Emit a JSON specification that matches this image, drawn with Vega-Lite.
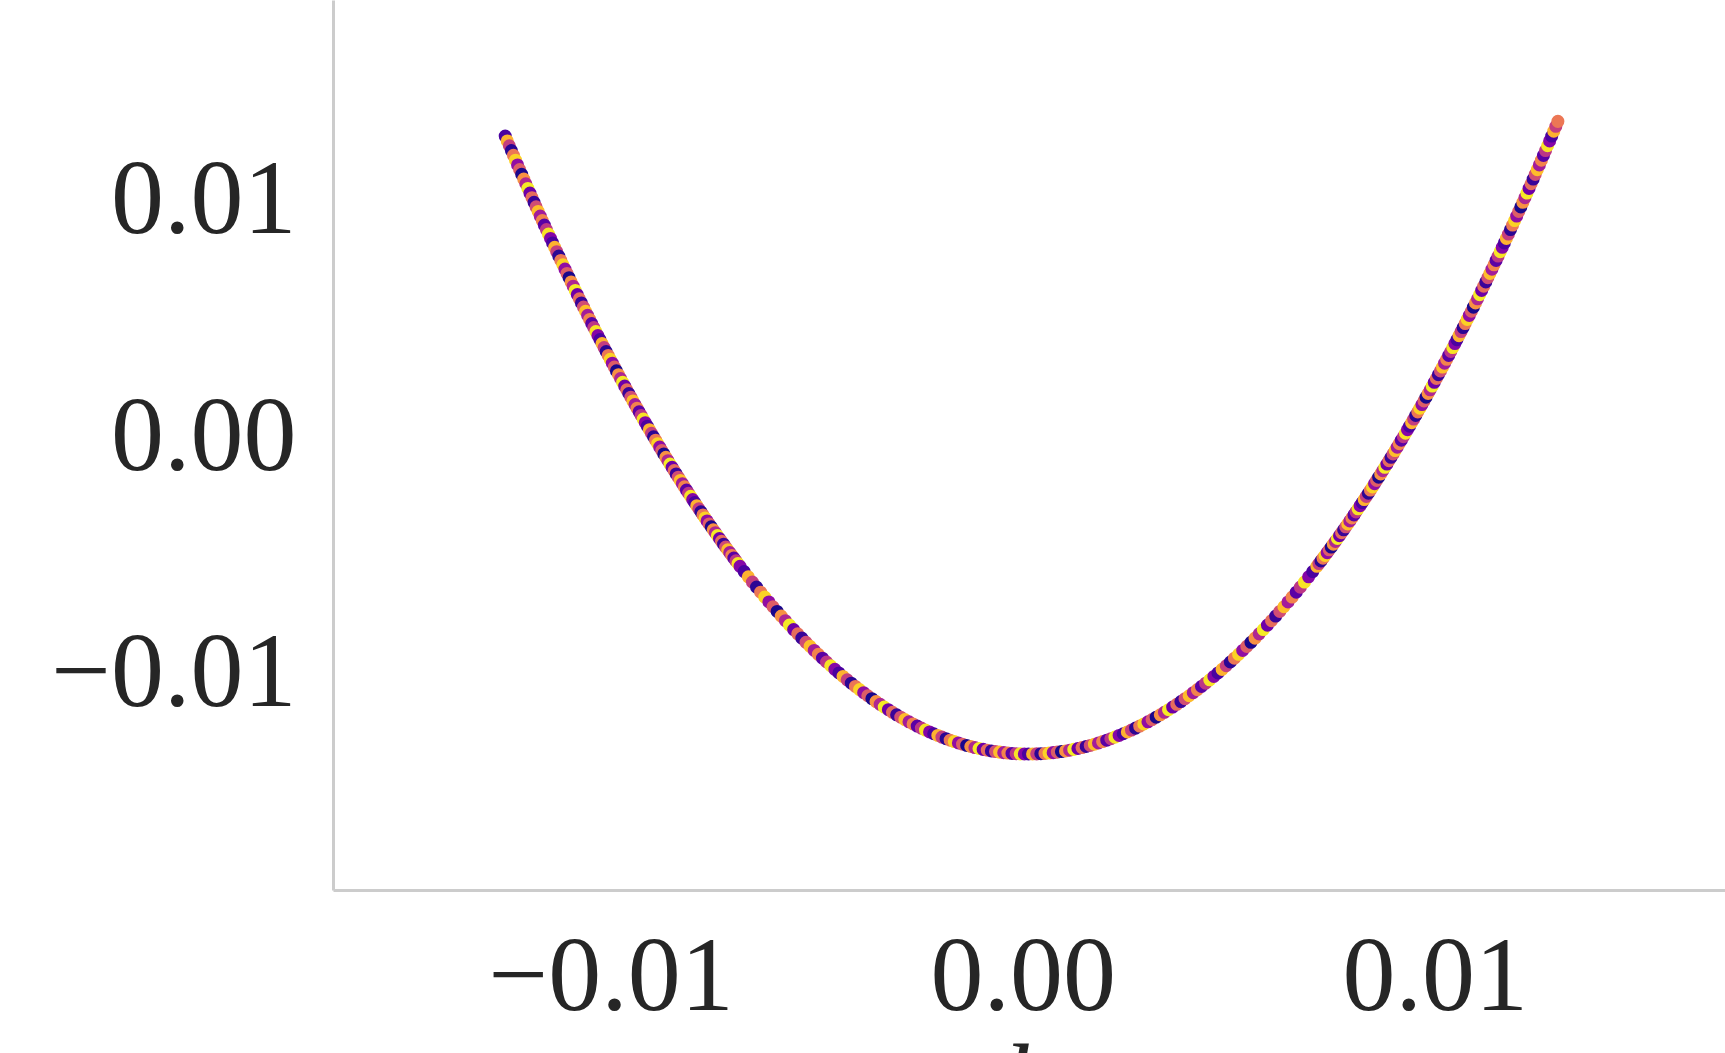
{
"$schema":"https://vega.github.io/schema/vega-lite/v6.json",
"width":1392,"height":890,
"autosize":{"type":"none"},
"padding":{"left":333,"top":0,"right":0,"bottom":163},
"background":"white",
"config":{"view":{"stroke":null},"font":"Liberation Serif"},
"data":{"values":[
{"x":-0.01256,"y":0.012725,"c":0.12},{"x":-0.01251,"y":0.01252,"c":0.83},{"x":-0.01246,"y":0.012315,"c":0.47},{"x":-0.01241,"y":0.012111,"c":0.05},{"x":-0.01236,"y":0.011909,"c":0.66},{"x":-0.01231,"y":0.011706,"c":0.91},{"x":-0.01226,"y":0.011505,"c":0.30},{"x":-0.01221,"y":0.011305,"c":0.58},{"x":-0.01216,"y":0.011105,"c":0.02},{"x":-0.01211,"y":0.010906,"c":0.74},{"x":-0.01206,"y":0.010708,"c":0.39},{"x":-0.01201,"y":0.010511,"c":0.97},{"x":-0.01196,"y":0.010314,"c":0.21},{"x":-0.01191,"y":0.010119,"c":0.63},{"x":-0.01186,"y":0.009924,"c":0.08},{"x":-0.01181,"y":0.00973,"c":0.52},{"x":-0.01176,"y":0.009537,"c":0.86},{"x":-0.01171,"y":0.009344,"c":0.35},{"x":-0.01166,"y":0.009153,"c":0.70},{"x":-0.01161,"y":0.008962,"c":0.16},{"x":-0.01156,"y":0.008772,"c":0.44},{"x":-0.01151,"y":0.008583,"c":0.95},{"x":-0.01146,"y":0.008395,"c":0.27},
{"x":-0.01141,"y":0.008207,"c":0.12},{"x":-0.01136,"y":0.008021,"c":0.83},{"x":-0.01131,"y":0.007835,"c":0.47},{"x":-0.01126,"y":0.00765,"c":0.05},{"x":-0.01121,"y":0.007465,"c":0.66},{"x":-0.01116,"y":0.007282,"c":0.91},{"x":-0.01111,"y":0.007099,"c":0.30},{"x":-0.01106,"y":0.006917,"c":0.58},{"x":-0.01101,"y":0.006736,"c":0.02},{"x":-0.01096,"y":0.006556,"c":0.74},{"x":-0.01091,"y":0.006377,"c":0.39},{"x":-0.01086,"y":0.006198,"c":0.97},{"x":-0.01081,"y":0.00602,"c":0.21},{"x":-0.01076,"y":0.005843,"c":0.63},{"x":-0.01071,"y":0.005667,"c":0.08},{"x":-0.01066,"y":0.005492,"c":0.52},{"x":-0.01061,"y":0.005317,"c":0.86},{"x":-0.01056,"y":0.005143,"c":0.35},{"x":-0.01051,"y":0.00497,"c":0.70},{"x":-0.01046,"y":0.004798,"c":0.16},{"x":-0.01041,"y":0.004627,"c":0.44},{"x":-0.01036,"y":0.004457,"c":0.95},{"x":-0.01031,"y":0.004287,"c":0.27},
{"x":-0.01026,"y":0.004118,"c":0.12},{"x":-0.01021,"y":0.00395,"c":0.83},{"x":-0.01016,"y":0.003783,"c":0.47},{"x":-0.01011,"y":0.003616,"c":0.05},{"x":-0.01006,"y":0.00345,"c":0.66},{"x":-0.01001,"y":0.003286,"c":0.91},{"x":-0.00996,"y":0.003122,"c":0.30},{"x":-0.00991,"y":0.002958,"c":0.58},{"x":-0.00986,"y":0.002796,"c":0.02},{"x":-0.00981,"y":0.002634,"c":0.74},{"x":-0.00976,"y":0.002474,"c":0.39},{"x":-0.00971,"y":0.002314,"c":0.97},{"x":-0.00966,"y":0.002154,"c":0.21},{"x":-0.00961,"y":0.001996,"c":0.63},{"x":-0.00956,"y":0.001839,"c":0.08},{"x":-0.00951,"y":0.001682,"c":0.52},{"x":-0.00946,"y":0.001526,"c":0.86},{"x":-0.00941,"y":0.001371,"c":0.35},{"x":-0.00936,"y":0.001217,"c":0.70},{"x":-0.00931,"y":0.001063,"c":0.16},{"x":-0.00926,"y":0.00091,"c":0.44},{"x":-0.00921,"y":0.000758,"c":0.95},{"x":-0.00916,"y":0.000607,"c":0.27},
{"x":-0.00911,"y":0.000457,"c":0.12},{"x":-0.00906,"y":0.000308,"c":0.83},{"x":-0.00901,"y":0.000159,"c":0.47},{"x":-0.00896,"y":0.000011,"c":0.05},{"x":-0.00891,"y":-0.000136,"c":0.66},{"x":-0.00886,"y":-0.000282,"c":0.91},{"x":-0.00881,"y":-0.000427,"c":0.30},{"x":-0.00876,"y":-0.000572,"c":0.58},{"x":-0.00871,"y":-0.000716,"c":0.02},{"x":-0.00866,"y":-0.000859,"c":0.74},{"x":-0.00861,"y":-0.001001,"c":0.39},{"x":-0.00856,"y":-0.001142,"c":0.97},{"x":-0.00851,"y":-0.001283,"c":0.21},{"x":-0.00846,"y":-0.001422,"c":0.63},{"x":-0.00841,"y":-0.001561,"c":0.08},{"x":-0.00836,"y":-0.0017,"c":0.52},{"x":-0.00831,"y":-0.001837,"c":0.86},{"x":-0.00826,"y":-0.001973,"c":0.35},{"x":-0.00821,"y":-0.002109,"c":0.70},{"x":-0.00816,"y":-0.002244,"c":0.16},{"x":-0.00811,"y":-0.002378,"c":0.44},{"x":-0.00806,"y":-0.002511,"c":0.95},{"x":-0.00801,"y":-0.002644,"c":0.27},
{"x":-0.00796,"y":-0.002775,"c":0.12},{"x":-0.00791,"y":-0.002906,"c":0.83},{"x":-0.00786,"y":-0.003036,"c":0.47},{"x":-0.00781,"y":-0.003165,"c":0.05},{"x":-0.00776,"y":-0.003294,"c":0.66},{"x":-0.00771,"y":-0.003421,"c":0.91},{"x":-0.00766,"y":-0.003548,"c":0.30},{"x":-0.00761,"y":-0.003674,"c":0.58},{"x":-0.00756,"y":-0.003799,"c":0.02},{"x":-0.00751,"y":-0.003923,"c":0.74},{"x":-0.00746,"y":-0.004047,"c":0.39},{"x":-0.00741,"y":-0.00417,"c":0.97},{"x":-0.00736,"y":-0.004292,"c":0.21},{"x":-0.00731,"y":-0.004413,"c":0.63},{"x":-0.00726,"y":-0.004533,"c":0.08},{"x":-0.00721,"y":-0.004652,"c":0.52},{"x":-0.00716,"y":-0.004771,"c":0.86},{"x":-0.00711,"y":-0.004889,"c":0.35},{"x":-0.00706,"y":-0.005006,"c":0.70},{"x":-0.00701,"y":-0.005122,"c":0.16},{"x":-0.00696,"y":-0.005238,"c":0.44},{"x":-0.00691,"y":-0.005352,"c":0.95},
{"x":-0.00686,"y":-0.005466,"c":0.27},{"x":-0.00676,"y":-0.005691,"c":0.12},{"x":-0.00666,"y":-0.005913,"c":0.83},{"x":-0.00656,"y":-0.006132,"c":0.47},{"x":-0.00646,"y":-0.006347,"c":0.05},{"x":-0.00636,"y":-0.00656,"c":0.66},{"x":-0.00626,"y":-0.006768,"c":0.91},{"x":-0.00616,"y":-0.006974,"c":0.30},{"x":-0.00606,"y":-0.007177,"c":0.58},{"x":-0.00596,"y":-0.007376,"c":0.02},{"x":-0.00586,"y":-0.007572,"c":0.74},{"x":-0.00576,"y":-0.007765,"c":0.39},{"x":-0.00566,"y":-0.007954,"c":0.97},{"x":-0.00556,"y":-0.008141,"c":0.21},{"x":-0.00546,"y":-0.008324,"c":0.63},{"x":-0.00536,"y":-0.008504,"c":0.08},{"x":-0.00526,"y":-0.00868,"c":0.52},{"x":-0.00516,"y":-0.008853,"c":0.86},{"x":-0.00506,"y":-0.009024,"c":0.35},{"x":-0.00496,"y":-0.00919,"c":0.70},{"x":-0.00486,"y":-0.009354,"c":0.16},{"x":-0.00476,"y":-0.009514,"c":0.44},{"x":-0.00466,"y":-0.009672,"c":0.95},
{"x":-0.00456,"y":-0.009825,"c":0.27},{"x":-0.00446,"y":-0.009976,"c":0.12},{"x":-0.00436,"y":-0.010124,"c":0.83},{"x":-0.00426,"y":-0.010268,"c":0.47},{"x":-0.00416,"y":-0.010409,"c":0.05},{"x":-0.00406,"y":-0.010546,"c":0.66},{"x":-0.00396,"y":-0.010681,"c":0.91},{"x":-0.00386,"y":-0.010812,"c":0.30},{"x":-0.00376,"y":-0.01094,"c":0.58},{"x":-0.00366,"y":-0.011065,"c":0.02},{"x":-0.00356,"y":-0.011186,"c":0.74},{"x":-0.00346,"y":-0.011304,"c":0.39},{"x":-0.00336,"y":-0.01142,"c":0.97},{"x":-0.00326,"y":-0.011531,"c":0.21},{"x":-0.00316,"y":-0.01164,"c":0.63},{"x":-0.00306,"y":-0.011745,"c":0.08},{"x":-0.00296,"y":-0.011847,"c":0.52},{"x":-0.00286,"y":-0.011946,"c":0.86},{"x":-0.00276,"y":-0.012042,"c":0.35},{"x":-0.00266,"y":-0.012134,"c":0.70},{"x":-0.00256,"y":-0.012223,"c":0.16},{"x":-0.00246,"y":-0.012309,"c":0.44},{"x":-0.00236,"y":-0.012392,"c":0.95},
{"x":-0.00226,"y":-0.012471,"c":0.27},{"x":-0.00216,"y":-0.012547,"c":0.12},{"x":-0.00206,"y":-0.01262,"c":0.83},{"x":-0.00196,"y":-0.01269,"c":0.47},{"x":-0.00186,"y":-0.012756,"c":0.05},{"x":-0.00176,"y":-0.012819,"c":0.66},{"x":-0.00166,"y":-0.012879,"c":0.91},{"x":-0.00156,"y":-0.012936,"c":0.30},{"x":-0.00146,"y":-0.012989,"c":0.58},{"x":-0.00136,"y":-0.01304,"c":0.02},{"x":-0.00126,"y":-0.013086,"c":0.74},{"x":-0.00116,"y":-0.01313,"c":0.39},{"x":-0.00106,"y":-0.013171,"c":0.97},{"x":-0.00096,"y":-0.013208,"c":0.21},{"x":-0.00086,"y":-0.013242,"c":0.63},{"x":-0.00076,"y":-0.013273,"c":0.08},{"x":-0.00066,"y":-0.0133,"c":0.52},{"x":-0.00056,"y":-0.013325,"c":0.86},{"x":-0.00046,"y":-0.013346,"c":0.35},{"x":-0.00036,"y":-0.013364,"c":0.70},{"x":-0.00026,"y":-0.013378,"c":0.16},{"x":-0.00016,"y":-0.013389,"c":0.44},{"x":-0.00006,"y":-0.013398,"c":0.95},
{"x":0.00004,"y":-0.013402,"c":0.27},{"x":0.00014,"y":-0.013404,"c":0.12},{"x":0.00024,"y":-0.013402,"c":0.83},{"x":0.00034,"y":-0.013398,"c":0.47},{"x":0.00044,"y":-0.013389,"c":0.05},{"x":0.00054,"y":-0.013378,"c":0.66},{"x":0.00064,"y":-0.013364,"c":0.91},{"x":0.00074,"y":-0.013346,"c":0.30},{"x":0.00084,"y":-0.013325,"c":0.58},{"x":0.00094,"y":-0.0133,"c":0.02},{"x":0.00104,"y":-0.013273,"c":0.74},{"x":0.00114,"y":-0.013242,"c":0.39},{"x":0.00124,"y":-0.013208,"c":0.97},{"x":0.00134,"y":-0.013171,"c":0.21},{"x":0.00144,"y":-0.01313,"c":0.63},{"x":0.00154,"y":-0.013086,"c":0.08},{"x":0.00164,"y":-0.01304,"c":0.52},{"x":0.00174,"y":-0.012989,"c":0.86},{"x":0.00184,"y":-0.012936,"c":0.35},{"x":0.00194,"y":-0.012879,"c":0.70},{"x":0.00204,"y":-0.012819,"c":0.16},{"x":0.00214,"y":-0.012756,"c":0.44},{"x":0.00224,"y":-0.01269,"c":0.95},
{"x":0.00234,"y":-0.01262,"c":0.27},{"x":0.00244,"y":-0.012547,"c":0.12},{"x":0.00254,"y":-0.012471,"c":0.83},{"x":0.00264,"y":-0.012392,"c":0.47},{"x":0.00274,"y":-0.012309,"c":0.05},{"x":0.00284,"y":-0.012223,"c":0.66},{"x":0.00294,"y":-0.012134,"c":0.91},{"x":0.00304,"y":-0.012042,"c":0.30},{"x":0.00314,"y":-0.011946,"c":0.58},{"x":0.00324,"y":-0.011847,"c":0.02},{"x":0.00334,"y":-0.011745,"c":0.74},{"x":0.00344,"y":-0.01164,"c":0.39},{"x":0.00354,"y":-0.011531,"c":0.97},{"x":0.00364,"y":-0.01142,"c":0.21},{"x":0.00374,"y":-0.011304,"c":0.63},{"x":0.00384,"y":-0.011186,"c":0.08},{"x":0.00394,"y":-0.011065,"c":0.52},{"x":0.00404,"y":-0.01094,"c":0.86},{"x":0.00414,"y":-0.010812,"c":0.35},{"x":0.00424,"y":-0.010681,"c":0.70},{"x":0.00434,"y":-0.010546,"c":0.16},{"x":0.00444,"y":-0.010409,"c":0.44},{"x":0.00454,"y":-0.010268,"c":0.95},
{"x":0.00464,"y":-0.010124,"c":0.27},{"x":0.00474,"y":-0.009976,"c":0.12},{"x":0.00484,"y":-0.009825,"c":0.83},{"x":0.00494,"y":-0.009672,"c":0.47},{"x":0.00504,"y":-0.009514,"c":0.05},{"x":0.00514,"y":-0.009354,"c":0.66},{"x":0.00524,"y":-0.00919,"c":0.91},{"x":0.00534,"y":-0.009024,"c":0.30},{"x":0.00544,"y":-0.008853,"c":0.58},{"x":0.00554,"y":-0.00868,"c":0.02},{"x":0.00564,"y":-0.008504,"c":0.74},{"x":0.00574,"y":-0.008324,"c":0.39},{"x":0.00584,"y":-0.008141,"c":0.97},{"x":0.00594,"y":-0.007954,"c":0.21},{"x":0.00604,"y":-0.007765,"c":0.63},{"x":0.00614,"y":-0.007572,"c":0.08},{"x":0.00624,"y":-0.007376,"c":0.52},{"x":0.00634,"y":-0.007177,"c":0.86},{"x":0.00644,"y":-0.006974,"c":0.35},{"x":0.00654,"y":-0.006768,"c":0.70},{"x":0.00664,"y":-0.00656,"c":0.16},{"x":0.00674,"y":-0.006347,"c":0.44},{"x":0.00684,"y":-0.006132,"c":0.95},
{"x":0.00694,"y":-0.005913,"c":0.27},{"x":0.00704,"y":-0.005691,"c":0.12},{"x":0.00714,"y":-0.005466,"c":0.83},
{"x":0.00719,"y":-0.005352,"c":0.47},{"x":0.00724,"y":-0.005238,"c":0.05},{"x":0.00729,"y":-0.005122,"c":0.66},{"x":0.00734,"y":-0.005006,"c":0.91},{"x":0.00739,"y":-0.004889,"c":0.30},{"x":0.00744,"y":-0.004771,"c":0.58},{"x":0.00749,"y":-0.004652,"c":0.02},{"x":0.00754,"y":-0.004533,"c":0.74},{"x":0.00759,"y":-0.004413,"c":0.39},{"x":0.00764,"y":-0.004292,"c":0.97},{"x":0.00769,"y":-0.00417,"c":0.21},{"x":0.00774,"y":-0.004047,"c":0.63},{"x":0.00779,"y":-0.003923,"c":0.08},{"x":0.00784,"y":-0.003799,"c":0.52},{"x":0.00789,"y":-0.003674,"c":0.86},{"x":0.00794,"y":-0.003548,"c":0.35},{"x":0.00799,"y":-0.003421,"c":0.70},{"x":0.00804,"y":-0.003294,"c":0.16},{"x":0.00809,"y":-0.003165,"c":0.44},{"x":0.00814,"y":-0.003036,"c":0.95},
{"x":0.00819,"y":-0.002906,"c":0.27},{"x":0.00824,"y":-0.002775,"c":0.12},{"x":0.00829,"y":-0.002644,"c":0.83},{"x":0.00834,"y":-0.002511,"c":0.47},{"x":0.00839,"y":-0.002378,"c":0.05},{"x":0.00844,"y":-0.002244,"c":0.66},{"x":0.00849,"y":-0.002109,"c":0.91},{"x":0.00854,"y":-0.001973,"c":0.30},{"x":0.00859,"y":-0.001837,"c":0.58},{"x":0.00864,"y":-0.0017,"c":0.02},{"x":0.00869,"y":-0.001561,"c":0.74},{"x":0.00874,"y":-0.001422,"c":0.39},{"x":0.00879,"y":-0.001283,"c":0.97},{"x":0.00884,"y":-0.001142,"c":0.21},{"x":0.00889,"y":-0.001001,"c":0.63},{"x":0.00894,"y":-0.000859,"c":0.08},{"x":0.00899,"y":-0.000716,"c":0.52},{"x":0.00904,"y":-0.000572,"c":0.86},{"x":0.00909,"y":-0.000427,"c":0.35},{"x":0.00914,"y":-0.000282,"c":0.70},{"x":0.00919,"y":-0.000136,"c":0.16},{"x":0.00924,"y":0.000011,"c":0.44},{"x":0.00929,"y":0.000159,"c":0.95},
{"x":0.00934,"y":0.000308,"c":0.27},{"x":0.00939,"y":0.000457,"c":0.12},{"x":0.00944,"y":0.000607,"c":0.83},{"x":0.00949,"y":0.000758,"c":0.47},{"x":0.00954,"y":0.00091,"c":0.05},{"x":0.00959,"y":0.001063,"c":0.66},{"x":0.00964,"y":0.001217,"c":0.91},{"x":0.00969,"y":0.001371,"c":0.30},{"x":0.00974,"y":0.001526,"c":0.58},{"x":0.00979,"y":0.001682,"c":0.02},{"x":0.00984,"y":0.001839,"c":0.74},{"x":0.00989,"y":0.001996,"c":0.39},{"x":0.00994,"y":0.002154,"c":0.97},{"x":0.00999,"y":0.002314,"c":0.21},{"x":0.01004,"y":0.002474,"c":0.63},{"x":0.01009,"y":0.002634,"c":0.08},{"x":0.01014,"y":0.002796,"c":0.52},{"x":0.01019,"y":0.002958,"c":0.86},{"x":0.01024,"y":0.003122,"c":0.35},{"x":0.01029,"y":0.003286,"c":0.70},{"x":0.01034,"y":0.00345,"c":0.16},{"x":0.01039,"y":0.003616,"c":0.44},{"x":0.01044,"y":0.003783,"c":0.95},
{"x":0.01049,"y":0.00395,"c":0.27},{"x":0.01054,"y":0.004118,"c":0.12},{"x":0.01059,"y":0.004287,"c":0.83},{"x":0.01064,"y":0.004457,"c":0.47},{"x":0.01069,"y":0.004627,"c":0.05},{"x":0.01074,"y":0.004798,"c":0.66},{"x":0.01079,"y":0.00497,"c":0.91},{"x":0.01084,"y":0.005143,"c":0.30},{"x":0.01089,"y":0.005317,"c":0.58},{"x":0.01094,"y":0.005492,"c":0.02},{"x":0.01099,"y":0.005667,"c":0.74},{"x":0.01104,"y":0.005843,"c":0.39},{"x":0.01109,"y":0.00602,"c":0.97},{"x":0.01114,"y":0.006198,"c":0.21},{"x":0.01119,"y":0.006377,"c":0.63},{"x":0.01124,"y":0.006556,"c":0.08},{"x":0.01129,"y":0.006736,"c":0.52},{"x":0.01134,"y":0.006917,"c":0.86},{"x":0.01139,"y":0.007099,"c":0.35},{"x":0.01144,"y":0.007282,"c":0.70},{"x":0.01149,"y":0.007465,"c":0.16},{"x":0.01154,"y":0.00765,"c":0.44},{"x":0.01159,"y":0.007835,"c":0.95},
{"x":0.01164,"y":0.008021,"c":0.27},{"x":0.01169,"y":0.008207,"c":0.12},{"x":0.01174,"y":0.008395,"c":0.83},{"x":0.01179,"y":0.008583,"c":0.47},{"x":0.01184,"y":0.008772,"c":0.05},{"x":0.01189,"y":0.008962,"c":0.66},{"x":0.01194,"y":0.009153,"c":0.91},{"x":0.01199,"y":0.009344,"c":0.30},{"x":0.01204,"y":0.009537,"c":0.58},{"x":0.01209,"y":0.00973,"c":0.02},{"x":0.01214,"y":0.009924,"c":0.74},{"x":0.01219,"y":0.010119,"c":0.39},{"x":0.01224,"y":0.010314,"c":0.97},{"x":0.01229,"y":0.010511,"c":0.21},{"x":0.01234,"y":0.010708,"c":0.63},{"x":0.01239,"y":0.010906,"c":0.08},{"x":0.01244,"y":0.011105,"c":0.52},{"x":0.01249,"y":0.011305,"c":0.86},{"x":0.01254,"y":0.011505,"c":0.35},{"x":0.01259,"y":0.011706,"c":0.70},{"x":0.01264,"y":0.011909,"c":0.16},{"x":0.01269,"y":0.012111,"c":0.44},{"x":0.01274,"y":0.012315,"c":0.95},
{"x":0.01279,"y":0.01252,"c":0.27},{"x":0.01284,"y":0.012725,"c":0.12},{"x":0.01289,"y":0.012931,"c":0.83},{"x":0.01294,"y":0.013138,"c":0.47},{"x":0.01299,"y":0.013346,"c":0.66}
]},
"mark":{"type":"circle","size":170,"opacity":1},
"encoding":{
"x":{"field":"x","type":"quantitative","scale":{"domain":[-0.01674,0.017046],"nice":false,"zero":false},
"axis":{"values":[-0.01,0,0.01],"format":".2f","grid":false,"ticks":false,"domainColor":"#cccccc","domainWidth":3,"labelFont":"Liberation Serif","labelFontSize":106,"labelColor":"#262626","labelPadding":35,"labelLimit":0,"labelFlush":false,"labelOverlap":false,"title":"l","titleFont":"Liberation Serif","titleFontStyle":"italic","titleFontWeight":"normal","titleFontSize":106,"titleColor":"#262626","titleBaseline":"top","titleY":142,"titleX":683}},
"y":{"field":"y","type":"quantitative","scale":{"domain":[-0.019154,0.018478],"nice":false,"zero":false},
"axis":{"values":[-0.01,0,0.01],"format":".2f","grid":false,"ticks":false,"domainColor":"#cccccc","domainWidth":3,"labelFont":"Liberation Serif","labelFontSize":106,"labelColor":"#262626","labelPadding":37,"labelLimit":0,"labelFlush":false,"labelOverlap":false,"title":null}},
"color":{"field":"c","type":"quantitative","scale":{"scheme":"plasma","domain":[0,1]},"legend":null}
}
}
